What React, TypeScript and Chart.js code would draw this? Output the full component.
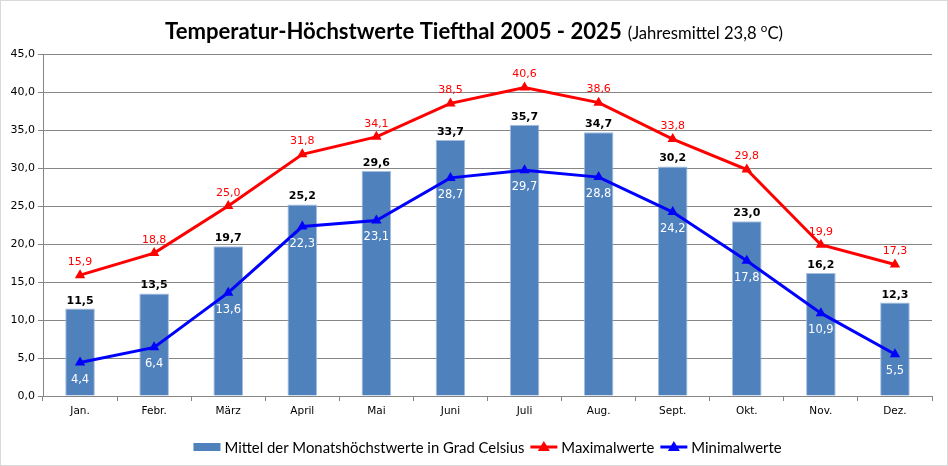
import React, { useEffect, useRef } from "react";
import { Chart, registerables } from "chart.js";

Chart.register(...registerables);

const categories = ["Jan.", "Febr.", "März", "April", "Mai", "Juni", "Juli", "Aug.", "Sept.", "Okt.", "Nov.", "Dez."];
const meanValues = [11.5, 13.5, 19.7, 25.2, 29.6, 33.7, 35.7, 34.7, 30.2, 23.0, 16.2, 12.3];
const maxValues = [15.9, 18.8, 25.0, 31.8, 34.1, 38.5, 40.6, 38.6, 33.8, 29.8, 19.9, 17.3];
const minValues = [4.4, 6.4, 13.6, 22.3, 23.1, 28.7, 29.7, 28.8, 24.2, 17.8, 10.9, 5.5];
const seriesNames = ["Mittel der Monatshöchstwerte in Grad Celsius", "Maximalwerte", "Minimalwerte"];
const titleMain = "Temperatur-Höchstwerte Tiefthal 2005 - 2025";
const titleSubA = "(Jahresmittel 23,8 ";
const titleSubSup = "o";
const titleSubB = "C)";
const yMin = 0;
const yMax = 45;
const yStep = 5;

const fmt = (v: number) => v.toFixed(1).replace(".", ",");

const W = 948;
const H = 466;
const TITLE_FONT = "Lato";
const TICK_FONT = "DejaVu Sans";

function fitSize(ctx: CanvasRenderingContext2D, text: string, weight: string, family: string, target: number) {
  ctx.font = `${weight} 20px "${family}"`;
  const w = ctx.measureText(text).width;
  return (20 * target) / w;
}

const decorPlugin = {
  id: "decor",
  beforeDraw(chart: any) {
    const ctx = chart.ctx;
    ctx.save();
    ctx.fillStyle = "#ffffff";
    ctx.fillRect(0, 0, W, H);
    ctx.strokeStyle = "#d9d9d9";
    ctx.lineWidth = 1;
    ctx.strokeRect(0.5, 0.5, W - 1, H - 1);
    ctx.restore();
  },
  afterDatasetsDraw(chart: any) {
    const ctx = chart.ctx;
    ctx.save();
    ctx.textAlign = "center";
    const barMeta = chart.getDatasetMeta(0);
    ctx.font = `bold 11px "${TICK_FONT}"`;
    ctx.fillStyle = "#000000";
    ctx.textBaseline = "alphabetic";
    barMeta.data.forEach((el: any, i: number) => {
      ctx.fillText(fmt(meanValues[i]), el.x, el.y - 5);
    });
    const maxMeta = chart.getDatasetMeta(1);
    ctx.font = `11px "${TICK_FONT}"`;
    ctx.fillStyle = "#ff0000";
    ctx.textBaseline = "middle";
    maxMeta.data.forEach((el: any, i: number) => {
      ctx.fillText(fmt(maxValues[i]), el.x, el.y - 13);
    });
    const minMeta = chart.getDatasetMeta(2);
    ctx.font = `11.5px "${TICK_FONT}"`;
    ctx.fillStyle = "#ffffff";
    minMeta.data.forEach((el: any, i: number) => {
      ctx.fillText(fmt(minValues[i]), el.x, el.y + 17);
    });
    ctx.restore();
  },
  afterDraw(chart: any) {
    const ctx = chart.ctx;
    ctx.save();
    const mainSize = fitSize(ctx, titleMain, "bold", TITLE_FONT, 457);
    const subSize = fitSize(ctx, titleSubA + titleSubSup + titleSubB, "normal", TITLE_FONT, 158);
    ctx.font = `bold ${mainSize}px "${TITLE_FONT}"`;
    const wMain = ctx.measureText(titleMain).width;
    ctx.font = `${subSize}px "${TITLE_FONT}"`;
    const wA = ctx.measureText(titleSubA).width;
    ctx.font = `${subSize * 0.7}px "${TITLE_FONT}"`;
    const wSup = ctx.measureText(titleSubSup).width;
    ctx.font = `${subSize}px "${TITLE_FONT}"`;
    const wB = ctx.measureText(titleSubB).width;
    const gap = 6;
    const total = wMain + gap + wA + wSup + wB;
    let x = 474 - total / 2;
    const base = 39;
    ctx.fillStyle = "#000000";
    ctx.textAlign = "left";
    ctx.textBaseline = "alphabetic";
    ctx.font = `bold ${mainSize}px "${TITLE_FONT}"`;
    ctx.fillText(titleMain, x, base);
    x += wMain + gap;
    ctx.font = `${subSize}px "${TITLE_FONT}"`;
    ctx.fillText(titleSubA, x, base);
    x += wA;
    ctx.font = `${subSize * 0.7}px "${TITLE_FONT}"`;
    ctx.fillText(titleSubSup, x, base - subSize * 0.45);
    x += wSup;
    ctx.font = `${subSize}px "${TITLE_FONT}"`;
    ctx.fillText(titleSubB, x, base);

    const legSize = fitSize(ctx, seriesNames[0], "normal", TITLE_FONT, 300);
    ctx.font = `${legSize}px "${TITLE_FONT}"`;
    const symW = 27;
    const symGap = 4;
    const itemGap = 6;
    const widths = seriesNames.map((n) => ctx.measureText(n).width);
    const legTotal = widths.reduce((a, b) => a + b, 0) + 3 * (symW + symGap) + 2 * itemGap;
    let lx = 487.5 - legTotal / 2;
    const ly = 447;
    const colors = ["#4f81bd", "#ff0000", "#0000ff"];
    seriesNames.forEach((n, i) => {
      if (i === 0) {
        ctx.fillStyle = colors[0];
        ctx.fillRect(lx, ly - 4, symW, 8);
      } else {
        ctx.strokeStyle = colors[i];
        ctx.lineWidth = 3;
        ctx.beginPath();
        ctx.moveTo(lx, ly);
        ctx.lineTo(lx + symW, ly);
        ctx.stroke();
        ctx.fillStyle = colors[i];
        const cx = lx + symW / 2;
        ctx.beginPath();
        ctx.moveTo(cx, ly - 6);
        ctx.lineTo(cx + 6, ly + 4);
        ctx.lineTo(cx - 6, ly + 4);
        ctx.closePath();
        ctx.fill();
      }
      lx += symW + symGap;
      ctx.fillStyle = "#000000";
      ctx.textBaseline = "middle";
      ctx.fillText(n, lx, ly + 1);
      lx += widths[i] + itemGap;
    });
    ctx.restore();
  },
};

export default function App() {
  const ref = useRef<HTMLCanvasElement | null>(null);
  useEffect(() => {
    document.body.style.margin = "0";
    const canvas = ref.current;
    if (!canvas) return;
    const chart = new Chart(canvas, {
      type: "bar",
      data: {
        labels: categories,
        datasets: [
          {
            type: "bar",
            label: seriesNames[0],
            data: meanValues,
            backgroundColor: "#4f81bd",
            borderColor: "#a7bfde",
            borderWidth: 1,
            barPercentage: 0.4,
            categoryPercentage: 1,
            order: 3,
          },
          {
            type: "line",
            label: seriesNames[1],
            data: maxValues,
            borderColor: "#ff0000",
            backgroundColor: "#ff0000",
            borderWidth: 3,
            pointStyle: "triangle",
            pointRadius: 6,
            pointBorderWidth: 0,
            tension: 0,
            order: 1,
          },
          {
            type: "line",
            label: seriesNames[2],
            data: minValues,
            borderColor: "#0000ff",
            backgroundColor: "#0000ff",
            borderWidth: 3,
            pointStyle: "triangle",
            pointRadius: 6,
            pointBorderWidth: 0,
            tension: 0,
            order: 2,
          },
        ],
      },
      options: {
        responsive: false,
        animation: false,
        devicePixelRatio: 1,
        layout: { padding: { left: 0, right: 16, top: 54, bottom: 0 } },
        plugins: {
          legend: { display: false },
          title: { display: false },
          tooltip: { enabled: false },
        },
        scales: {
          x: {
            grid: { display: true, drawOnChartArea: false, drawTicks: true, tickLength: 5, offset: true, color: "#868686" },
            border: { display: true, color: "#868686" },
            ticks: { color: "#000000", font: { family: TICK_FONT, size: 10.5 }, padding: 4, maxRotation: 0 },
            afterFit: (s: any) => {
              s.height = 70;
            },
          },
          y: {
            min: yMin,
            max: yMax,
            ticks: {
              stepSize: yStep,
              color: "#000000",
              font: { family: TICK_FONT, size: 11 },
              padding: 3,
              callback: (v: any) => fmt(Number(v)),
            },
            grid: { color: "#868686", tickLength: 5 },
            border: { display: true, color: "#868686" },
            afterFit: (s: any) => {
              s.width = 43;
            },
          },
        },
      },
      plugins: [decorPlugin],
    });
    return () => chart.destroy();
  }, []);
  return (
    <div style={{ width: W, height: H }}>
      <canvas ref={ref} width={W} height={H} style={{ display: "block" }} />
    </div>
  );
}
